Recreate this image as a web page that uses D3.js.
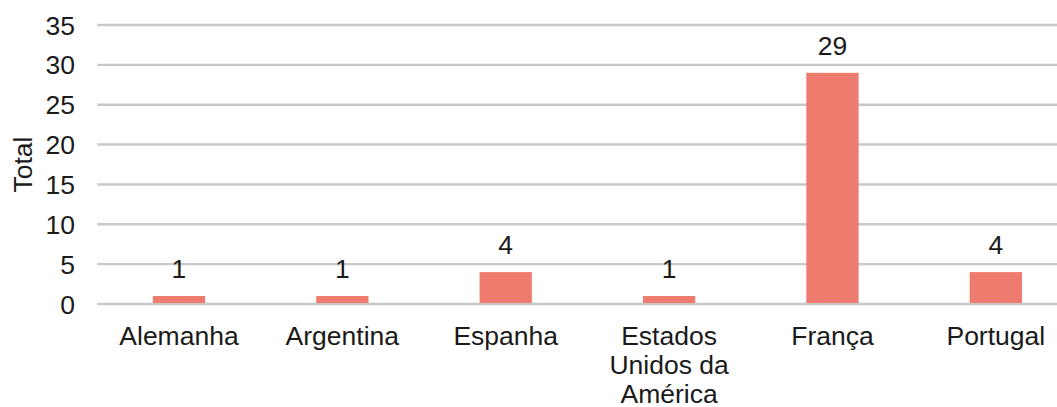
<!DOCTYPE html>
<html><head><meta charset="utf-8">
<script src="https://cdn.jsdelivr.net/npm/d3@7"></script>
<style>body{margin:0;background:#fff}svg{display:block}text{font-family:"Liberation Sans",Arial,sans-serif;fill:#1a1a1a}</style>
</head><body>
<svg id="c" width="1057" height="407"></svg>
<script>
const categories = ["Alemanha","Argentina","Espanha","Estados Unidos da América","França","Portugal"];
const categoryLines = [["Alemanha"],["Argentina"],["Espanha"],["Estados","Unidos da","América"],["França"],["Portugal"]];
const values = [1,1,4,1,29,4];
const yTicks = [0,5,10,15,20,25,30,35];
const yTitle = "Total";

(function(){
const svg = d3.select("#c");
const mLeft = 97.3, mRight = 1077.5, mTop = 25, mBottom = 304;
const fs = 26.5;
const x = d3.scaleBand().domain(categories).range([mLeft, mRight]).paddingInner(0.68).paddingOuter(0.34);
const y = d3.scaleLinear().domain([0,35]).range([mBottom, mTop]);

// gridlines
svg.append("g").selectAll("line").data(yTicks).join("line")
  .attr("x1", mLeft).attr("x2", mRight)
  .attr("y1", d => y(d)).attr("y2", d => y(d))
  .attr("stroke", "#c8c8c8").attr("stroke-width", 2.4);

// y tick labels
svg.append("g").selectAll("text").data(yTicks).join("text")
  .attr("x", 75).attr("y", d => y(d)).attr("dy", "0.36em")
  .attr("text-anchor", "end").attr("font-size", fs)
  .text(d => d);

// y title
svg.append("text").attr("transform", `translate(32,${(mTop+mBottom)/2}) rotate(-90)`)
  .attr("text-anchor", "middle").attr("font-size", fs).text(yTitle);

// bars
svg.append("g").selectAll("rect").data(values).join("rect")
  .attr("x", (d,i) => x(categories[i]))
  .attr("width", x.bandwidth())
  .attr("y", d => y(d))
  .attr("height", d => y(0) - y(d) - 1)
  .attr("fill", "#ee7b6d");

// value labels
svg.append("g").selectAll("text").data(values).join("text")
  .attr("x", (d,i) => x(categories[i]) + x.bandwidth()/2)
  .attr("y", d => y(d) - 18)
  .attr("text-anchor", "middle").attr("font-size", fs)
  .text(d => d);

// category labels
const cl = svg.append("g").selectAll("text").data(categoryLines).join("text")
  .attr("x", (d,i) => x(categories[i]) + x.bandwidth()/2)
  .attr("y", 345)
  .attr("text-anchor", "middle").attr("font-size", fs);
cl.selectAll("tspan").data(d => d).join("tspan")
  .attr("x", function(){ return this.parentNode.getAttribute("x"); })
  .attr("dy", (d,i) => i === 0 ? 0 : 29)
  .text(d => d);
})();
</script>
</body></html>
